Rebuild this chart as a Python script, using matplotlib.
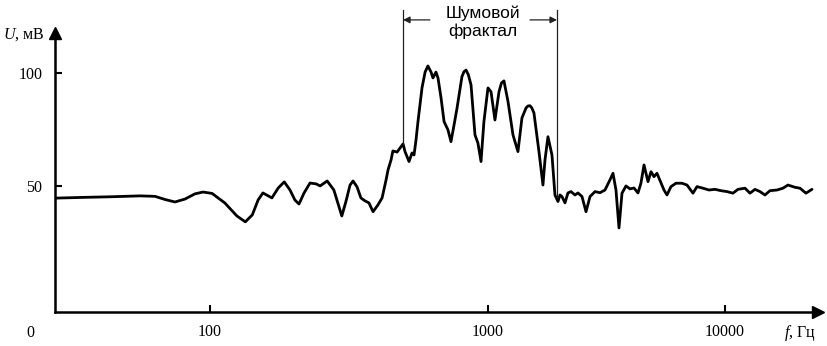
import numpy as np
import matplotlib
matplotlib.use("Agg")
import matplotlib.pyplot as plt

plt.rcParams['font.family'] = ['Liberation Serif', 'DejaVu Serif']
plt.rcParams['mathtext.fontset'] = 'custom'
plt.rcParams['mathtext.rm'] = 'Liberation Serif'
plt.rcParams['mathtext.it'] = 'Liberation Serif:italic'

# spectrum: frequency (Hz) and voltage (mV)
freq = [27.7, 34.1, 43.7, 56.0, 63.4, 68.9, 74.8, 81.3, 88.3, 94.4,
        101.7, 113, 125, 134, 142, 149, 155, 162, 167, 176,
        185, 194, 202, 209, 218, 229, 241, 249, 264, 279,
        289, 298, 308, 319, 327, 338, 349, 361, 373, 386,
        402, 416, 430, 437, 448, 455, 471, 483, 495, 503,
        520, 533, 542, 551, 560, 579, 594, 608, 624, 634,
        650, 661, 678, 695, 718, 736, 755, 774, 806, 820, 834, 850,
        869, 898, 920, 944, 967, 1000, 1030, 1070, 1113, 1140, 1168,
        1215, 1275, 1338, 1391, 1447, 1475, 1504, 1530, 1563, 1641, 1706, 1740,
        1791, 1862, 1917, 1974, 2013, 2052, 2113, 2175, 2240, 2329,
        2398, 2493, 2592, 2695, 2829, 2969, 3117, 3272, 3369, 3468,
        3571, 3677, 3822, 3973, 4130, 4295, 4422, 4553, 4733, 4874,
        5017, 5165, 5370, 5529, 5693, 5918, 6212, 6586, 6914, 7328,
        7619, 8075, 8559, 9073, 9619, 10195, 10806, 11348, 12146, 12751,
        13384, 14050, 14749, 15485, 16574, 17568, 18443, 19741, 20723, 21966,
        23286]
volt = [44.6, 44.9, 45.2, 45.6, 45.4, 44.0, 42.9, 44.2, 46.5, 47.3,
        46.7, 42.5, 36.7, 34.1, 37.2, 43.8, 46.9, 45.6, 44.7, 49.1,
        51.8, 48.2, 43.8, 42.0, 46.9, 51.3, 50.9, 50.0, 52.2, 48.2,
        42.0, 36.7, 42.9, 50.4, 52.2, 49.6, 44.7, 43.4, 42.5, 38.6,
        41.6, 44.7, 52.7, 57.1, 61.5, 65.5, 65.0, 66.8, 68.6, 65.2,
        60.8, 64.6, 63.7, 70.4, 78.5, 93.4, 100.4, 103.1, 100.4, 97.8,
        100.4, 97.8, 88.9, 78.5, 74.8, 69.6, 77.0, 84.5, 98.4, 100.6, 101.3, 99.2,
        94.7, 72.6, 69.0, 60.8, 78.5, 93.4, 91.7, 79.2, 91.7, 95.6, 96.5,
        87.3, 72.6, 65.2, 80.1, 84.5, 85.4, 85.5, 84.6, 82.3, 65.2, 50.4, 61.5,
        71.8, 63.7, 46.0, 43.1, 46.0, 45.3, 42.5, 46.9, 47.5, 46.0,
        46.9, 45.3, 38.6, 45.3, 47.5, 47.0, 48.2, 52.7, 55.6, 48.2,
        31.4, 46.8, 50.0, 48.7, 49.1, 46.9, 51.3, 59.3, 51.9, 56.3,
        54.1, 55.6, 51.3, 48.2, 46.0, 49.7, 51.2, 51.2, 50.4, 46.8,
        49.7, 49.0, 48.2, 48.5, 47.9, 47.5, 46.8, 48.5, 49.0, 46.8,
        48.5, 47.5, 46.0, 47.9, 48.2, 49.0, 50.4, 49.4, 49.0, 46.8,
        48.5]

x_ticks = [100, 1000, 10000]
x_labels = ['100', '1000', '10000']
y_ticks = [50, 100]

# noise fractal band marker
band_f = [495, 1955]
band_low = [68.6, 45.0]
band_top = 128
arrow_u = 123.5
arrow_tail = [618, 1504]
band_text = 'Шумовой\nфрактал'

# drawing's frequency axis is not evenly spaced per decade
knots_lg = [1, 2, 3, 4, 5]
knots_px = [-68, 210, 488, 725, 962]


def fwd(f):
    return np.interp(np.log10(np.clip(f, 1e-3, None)), knots_lg, knots_px)


def inv(p):
    return 10 ** np.interp(p, knots_px, knots_lg)


fig = plt.figure(figsize=(8.28, 3.46), dpi=100)
ax = fig.add_axes([55 / 828, 34 / 346, 763 / 828, 279 / 346])
ax.set_xscale('function', functions=(fwd, inv))
ax.set_xlim(27.7, 24690)
ax.set_ylim(-5.8, 117.7)

ax.plot(freq, volt, color='black', lw=2.0, solid_joinstyle='round',
        solid_capstyle='round')

for sp in ['top', 'right']:
    ax.spines[sp].set_visible(False)
for sp in ['left', 'bottom']:
    ax.spines[sp].set_linewidth(1.8)

# axis arrow heads
ax.plot(1, 0, '>k', ms=8, transform=ax.transAxes, clip_on=False)
ax.plot(0, 1, '^k', ms=8, transform=ax.transAxes, clip_on=False)

ax.set_xticks(x_ticks)
ax.set_xticklabels(x_labels)
ax.xaxis.set_minor_locator(matplotlib.ticker.NullLocator())
ax.set_yticks(y_ticks)
ax.tick_params(direction='in', length=5, width=1.5, labelsize=11.5, pad=9)

ax.text(-25 / 763, -21 / 279, '0', transform=ax.transAxes,
        ha='center', va='center', fontsize=11.5)

fig.text(3 / 828, 1 - 35 / 346, r'$\it{U}$, мВ', fontsize=11.5, va='center')
fig.text(784 / 828, 1 - 333 / 346, r'$\it{f}$, Гц', fontsize=11.5, va='center')

# band lines and arrows
for f, lo in zip(band_f, band_low):
    ax.plot([f, f], [lo, band_top], color='#222222', lw=0.9, clip_on=False)
for f, tail in zip(band_f, arrow_tail):
    ax.annotate('', xy=(f, arrow_u), xytext=(tail, arrow_u),
                annotation_clip=False,
                arrowprops=dict(arrowstyle='-|>', color='#222222', lw=0.9,
                                mutation_scale=10, shrinkA=0, shrinkB=0))
ax.text(959, 122.6, band_text, ha='center', va='center', fontsize=12.5,
        family=['Liberation Sans', 'DejaVu Sans'], linespacing=1.2,
        clip_on=False)

fig.savefig('out.png', dpi=100)
